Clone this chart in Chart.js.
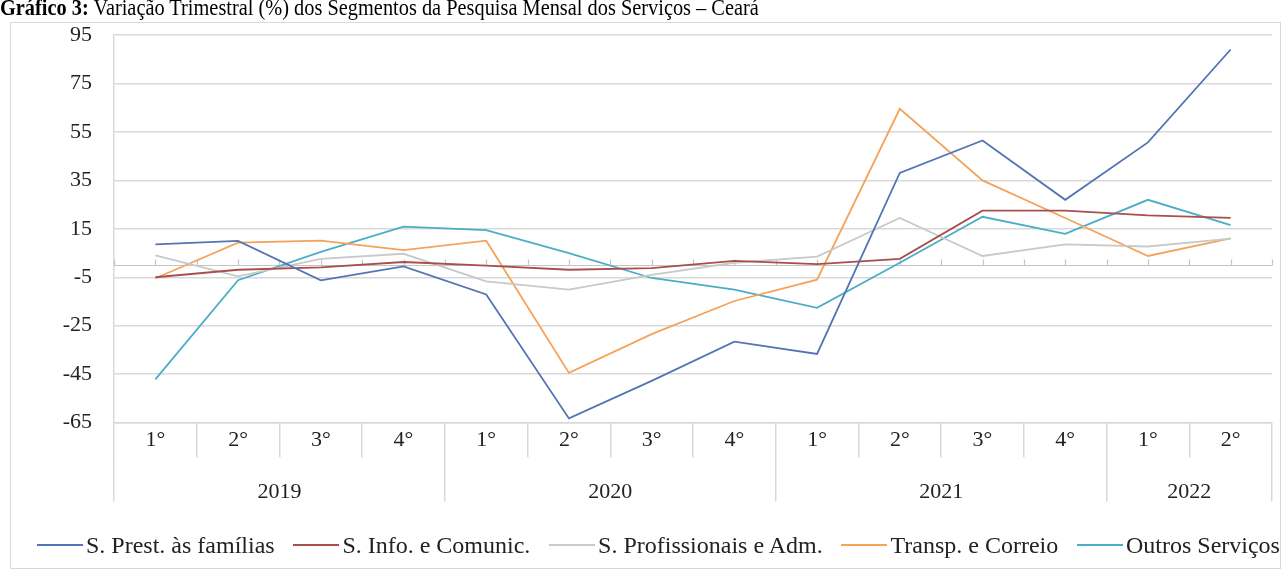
<!DOCTYPE html>
<html>
<head>
<meta charset="utf-8">
<script src="https://cdn.jsdelivr.net/npm/chart.js@4.4.1/dist/chart.umd.min.js"></script>
<style>
html,body{margin:0;padding:0;background:#fff;}
body{width:1282px;height:570px;position:relative;overflow:hidden;font-family:"Liberation Serif","Times New Roman",serif;}
#frame{position:absolute;left:10px;top:22px;width:1271px;height:547px;border:1px solid #d9d9d9;box-sizing:border-box;}
#cv{position:absolute;left:0;top:0;}
#title{position:absolute;left:0;top:-4px;font-size:23px;line-height:23px;white-space:nowrap;color:#000;transform:scaleX(0.885);transform-origin:0 0;}
#legend{position:absolute;left:37px;width:1243px;top:528px;height:34px;display:flex;justify-content:space-between;align-items:center;font-size:24px;color:#222;}
.item{display:flex;align-items:center;white-space:nowrap;}
.sw{display:inline-block;width:46px;height:2px;margin-right:3px;}
</style>
</head>
<body>
<div id="frame"></div>
<canvas id="cv" width="1282" height="570"></canvas>
<div id="title"><b>Gráfico 3:</b> Variação Trimestral (%) dos Segmentos da Pesquisa Mensal dos Serviços – Ceará</div>
<div id="legend"></div>
<script>
// ---- data ----
const quarters = ['1°','2°','3°','4°','1°','2°','3°','4°','1°','2°','3°','4°','1°','2°'];
const years = ['2019','2020','2021','2022'];
const yearSizes = [4,4,4,2];
const seriesNames = ['S. Prest. às famílias','S. Info. e Comunic.','S. Profissionais e Adm.','Transp. e Correio','Outros Serviços'];
const prestFamilias = [8.6, 10.0, -6.3, -0.5, -12.1, -63.3, -47.8, -31.6, -36.7, 38.1, 51.5, 27.0, 50.7, 89.1];
const infoComunic   = [-5.0, -1.9, -0.9, 1.3, -0.2, -1.9, -1.2, 1.8, 0.4, 2.6, 22.5, 22.5, 20.6, 19.5];
const profissionais = [4.0, -4.6, 2.6, 4.7, -6.7, -10.1, -4.0, 1.0, 3.5, 19.5, 3.8, 8.6, 7.7, 11.0];
const transpCorreio = [-5.4, 9.3, 10.1, 6.2, 10.1, -44.5, -28.5, -14.8, -6.0, 64.6, 35.0, 19.5, 3.8, 11.1];
const outrosServicos= [-47.2, -6.2, 5.5, 15.9, 14.5, 5.0, -5.3, -10.1, -17.6, 1.0, 20.0, 12.9, 27.0, 16.5];
const yMin = -65, yMax = 95, yStep = 20;

// ---- styles ----
const colors = ['#5375B3','#A94E4C','#C9C9C9','#F5A25A','#4CADC6'];
const FONT = "'Liberation Serif','Times New Roman',serif";
const GRID = '#d9d9d9';
const allSeries = [prestFamilias, infoComunic, profissionais, transpCorreio, outrosServicos];

// year-row ticks: boundaries and centres
const yearBounds = [-0.5];
const yearCentres = [];
let acc = 0;
yearSizes.forEach(n => { yearCentres.push(acc + n/2 - 0.5); acc += n; yearBounds.push(acc - 0.5); });
const yearTickValues = yearBounds.concat(yearCentres).sort((a,b)=>a-b);

const zeroLine = {
  id: 'zeroLine',
  beforeDatasetsDraw(chart) {
    const {ctx, chartArea: a, scales: {x, y}} = chart;
    const y0 = Math.round(y.getPixelForValue(0)) + 0.5;
    ctx.save();
    ctx.strokeStyle = '#c4c4c4';
    ctx.lineWidth = 1.2;
    ctx.beginPath();
    ctx.moveTo(a.left, y0); ctx.lineTo(a.right, y0);
    for (let i = -0.5; i <= quarters.length - 0.5; i += 0.5) {
      const px = Math.round(x.getPixelForValue(i)) + 0.5;
      ctx.moveTo(px, y0); ctx.lineTo(px, y0 - 6);
    }
    ctx.stroke();
    ctx.restore();
  }
};

new Chart(document.getElementById('cv'), {
  type: 'line',
  data: {
    labels: quarters,
    datasets: allSeries.map((d, i) => ({
      label: seriesNames[i],
      data: d,
      borderColor: colors[i],
      backgroundColor: colors[i],
      borderWidth: 1.8,
      pointRadius: 0,
      tension: 0,
      fill: false
    }))
  },
  options: {
    responsive: false,
    devicePixelRatio: 1,
    animation: false,
    layout: { padding: { left: 0, right: 10, top: 31.5, bottom: 65.5 } },
    plugins: { legend: { display: false }, tooltip: { enabled: false } },
    scales: {
      x: {
        type: 'category',
        position: 'bottom',
        weight: 0,
        offset: true,
        grid: { offset: true, drawOnChartArea: false, drawTicks: true, tickLength: 35, color: GRID, lineWidth: 1.5 },
        border: { display: true, color: GRID, width: 1.5 },
        ticks: { padding: -30, autoSkip: false, maxRotation: 0, font: { family: FONT, size: 22 }, color: '#222' },
        afterFit(s) { s.height = 34; }
      },
      y: {
        min: yMin, max: yMax,
        ticks: { stepSize: yStep, padding: 22, font: { family: FONT, size: 22 }, color: '#222' },
        grid: { color: GRID, lineWidth: 1.5, drawTicks: false },
        border: { display: true, color: GRID, width: 1.5 },
        afterFit(s) { s.width = 114; }
      },
      yr: {
        type: 'linear',
        position: 'bottom',
        weight: 1,
        min: -0.5, max: quarters.length - 0.5,
        afterBuildTicks(s) { s.ticks = yearTickValues.map(v => ({ value: v })); },
        ticks: {
          autoSkip: false, maxRotation: 0, padding: -22,
          font: { family: FONT, size: 22 }, color: '#222',
          callback: (v) => { const k = yearCentres.indexOf(v); return k >= 0 ? years[k] : ''; }
        },
        grid: {
          drawOnChartArea: false, tickLength: 45, lineWidth: 1.5,
          color: (c) => (c.tick && yearBounds.indexOf(c.tick.value) >= 0) ? GRID : 'rgba(0,0,0,0)'
        },
        border: { display: false },
        afterFit(s) { s.height = 48; }
      }
    }
  },
  plugins: [zeroLine]
});

// HTML legend
const lg = document.getElementById('legend');
seriesNames.forEach((n, i) => {
  const it = document.createElement('div'); it.className = 'item';
  const sw = document.createElement('span'); sw.className = 'sw'; sw.style.background = colors[i];
  const tx = document.createElement('span'); tx.textContent = n;
  it.appendChild(sw); it.appendChild(tx); lg.appendChild(it);
});
</script>
</body>
</html>
